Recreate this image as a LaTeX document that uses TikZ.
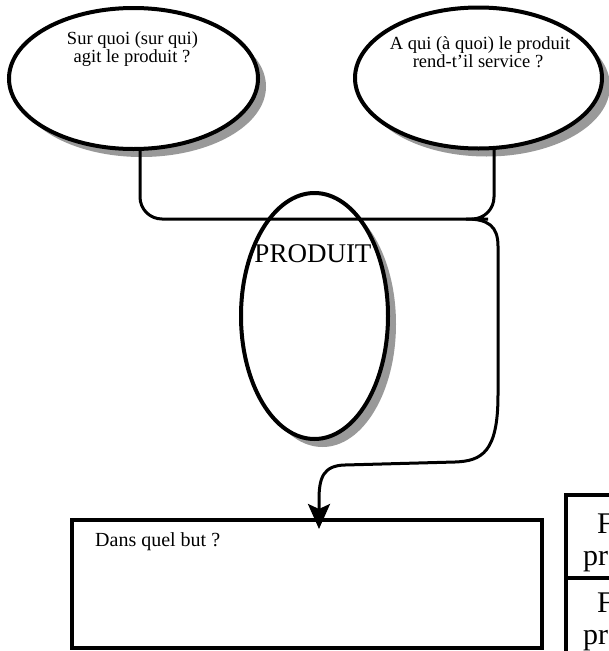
\documentclass[tikz,border=0pt]{standalone}
\usepackage{fontspec}
\setmainfont{Liberation Serif}
\usetikzlibrary{shapes.geometric,arrows.meta,calc}
\definecolor{shadowgray}{HTML}{999999}
\begin{document}
\begin{tikzpicture}[x=1pt,y=-1pt,
  oval/.style={ellipse, draw=black, line width=4pt, fill=white, inner sep=0pt, outer sep=0pt},
  ovalshade/.style={ellipse, fill=shadowgray, inner sep=0pt, outer sep=0pt},
  conn/.style={line width=3pt, draw=black},
  qtext/.style={font=\fontsize{18.5}{18}\selectfont, anchor=base, inner sep=0pt},
  ptext/.style={font=\fontsize{27}{30}\selectfont, anchor=base, inner sep=0pt},
  btext/.style={font=\fontsize{20}{22}\selectfont, anchor=base west, inner sep=0pt},
  ttext/.style={font=\fontsize{30}{32}\selectfont, anchor=base west, inner sep=0pt},
  boxstyle/.style={rectangle, draw=black, line width=4pt, inner sep=0pt, outer sep=0pt},
]
\useasboundingbox (0,0) rectangle (609,651);

% shadows
\node[ovalshade, minimum width=249, minimum height=141] (Ls) at (141.5,86.5) {};
\node[ovalshade, minimum width=247, minimum height=141] (Rs) at (486.5,86) {};
\node[ovalshade, minimum width=147, minimum height=246] (Ps) at (322.5,324) {};

% ellipses
\node[oval, minimum width=249, minimum height=141] (L) at (133.5,78.5) {};
\node[oval, minimum width=247, minimum height=141] (R) at (478.5,78) {};
\node[oval, minimum width=147, minimum height=246] (P) at (314.5,316) {};

% box
\node[boxstyle, minimum width=469.5, minimum height=128] (B) at (306.75,584) {};

% table (cut by the edge)
\node[boxstyle, anchor=north west, minimum width=120, minimum height=82.5] (T1) at (565.5,495) {};
\node[boxstyle, anchor=north west, minimum width=120, minimum height=100] (T2) at (565.5,577.5) {};

% texts
\node[qtext] (l1) at (132.5,44) {Sur quoi (sur qui)};
\node[qtext] (l2) at (132,62) {agit le produit ?};
\node[qtext] (r1) at (480,49) {A qui (à quoi) le produit};
\node[qtext] (r2) at (478,67.5) {rend-t\char"27 il service ?};
\node[ptext] (pt) at (313,262) {PRODUIT};
\node[btext] (bt) at (95,546) {Dans quel but ?};
\node[ttext] (t1a) at (597,533) {F};
\node[ttext] (t1b) at (583,565) {pr};
\node[ttext] (t2a) at (597,612) {F};
\node[ttext] (t2b) at (583,644) {pr};

% connectors
\coordinate (J) at (466,219);
\coordinate (tip) at ([xshift=12.25pt,yshift=-9pt]B.north);
\draw[conn, rounded corners=22pt] ([xshift=6.5pt]L.south) |- (J) -| ([xshift=15.5pt]R.south);
\draw[conn, -{Stealth[length=25pt, width=22pt, inset=5pt]}]
  (J) .. controls (488,219) and (498,226) .. (498,246)
  -- (498,395) .. controls (498,452) and (482,461) .. (455,462)
  -- (345,465) .. controls (323,465.5) and (319,478) .. (319,500) -- (tip);
\end{tikzpicture}
\end{document}
